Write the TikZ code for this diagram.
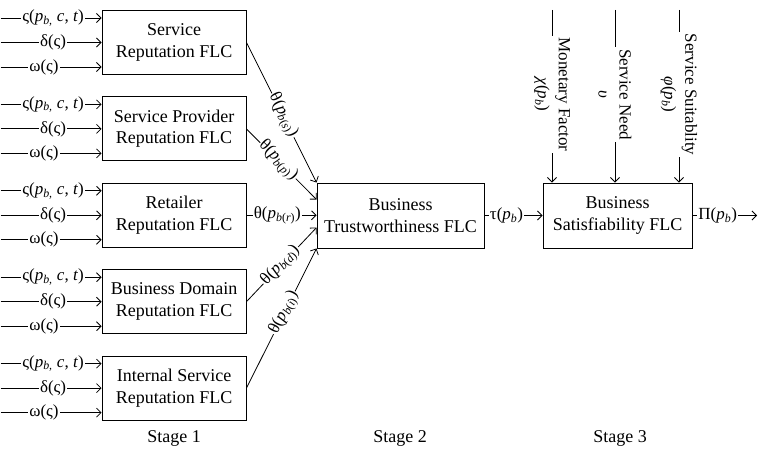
\documentclass[tikz,border=0pt]{standalone}
\usepackage{fontspec}
\setmainfont{Liberation Serif}
\usetikzlibrary{arrows.meta,calc}

% p with subscript b, and p with a composite subscript
\newcommand{\pb}{\textit{p}\textsubscript{\textit{b}}}
\newcommand{\pbx}[1]{\textit{p}\textsubscript{\textit{b}(\textit{#1})}}

\tikzset{
  flc/.style={draw, line width=0.9pt, minimum width=144pt, minimum height=64pt,
    align=center, inner sep=0pt, font=\fontsize{18}{21.5}\selectfont},
  sig/.style={draw, line width=0.8pt, -{Straight Barb[length=4.5pt,width=9pt]}},
  lbl/.style={fill=white, inner sep=1pt, font=\fontsize{17}{21}\selectfont},
  vlbl/.style={lbl, rotate=-90, align=center, inner sep=2pt},
  stagelbl/.style={font=\fontsize{18}{21}\selectfont}
}

\begin{document}
\begin{tikzpicture}[x=1pt,y=-1pt]
\useasboundingbox (0,0) rectangle (759,454);

% Stage 1: reputation controllers
\node[flc] (r1) at (174,42.5)  {Service\\Reputation FLC};
\node[flc] (r2) at (174,128.9) {Service Provider\\Reputation FLC};
\node[flc] (r3) at (174,215.3) {Retailer\\Reputation FLC};
\node[flc] (r4) at (174,301.7) {Business Domain\\Reputation FLC};
\node[flc] (r5) at (174,388.1) {Internal Service\\Reputation FLC};

% Stage 2 and Stage 3 controllers
\node[flc, minimum width=167pt, minimum height=65pt] (trust) at (400.5,215.5) {Business\\Trustworthiness FLC};
\node[flc, minimum width=149pt, minimum height=65pt] (sat) at (617.5,215.5) {Business\\Satisfiability FLC};

% three inputs into every reputation controller
\foreach \b in {r1,r2,r3,r4,r5}{
  \coordinate (\b-ia) at ($(\b.west)+(-101,-24.5)$);
  \coordinate (\b-ib) at ($(\b.west)+(-101,0)$);
  \coordinate (\b-ic) at ($(\b.west)+(-101,24.5)$);
  \draw[sig] (\b-ia) -- node[lbl,pos=0.52] {ς(\textit{p}\textsubscript{\textit{b,}} \textit{c}, \textit{t})} (\b-ia -| \b.west);
  \draw[sig] (\b-ib) -- node[lbl,pos=0.52] {δ(ς)} (\b-ib -| \b.west);
  \draw[sig] (\b-ic) -- node[lbl,pos=0.43] {ω(ς)} (\b-ic -| \b.west);
}

% entry points on the trustworthiness controller
\coordinate (t1) at ($(trust.north west)+(0,0)$);
\coordinate (t2) at ($(trust.north west)+(0,17)$);
\coordinate (t4) at ($(trust.north west)+(0,45)$);
\coordinate (t5) at ($(trust.south west)+(0,0)$);

\draw[sig] (r1.east) -- node[lbl,sloped,pos=0.52] {θ(\pbx{s})} (t1);
\draw[sig] (r2.east) -- node[lbl,sloped,pos=0.45] {θ(\pbx{p})} (t2);
\draw[sig] (r3.east) -- node[lbl,pos=0.44] {θ(\pbx{r})} (trust.west |- r3.east);
\draw[sig] (r4.east) -- node[lbl,sloped,pos=0.49] {θ(\pbx{d})} (t4);
\draw[sig] (r5.east) -- node[lbl,sloped,pos=0.54] {θ(\pbx{i})} (t5);

% trustworthiness into satisfiability, and the final output
\coordinate (out) at (757,215.5);
\draw[sig] (trust.east) -- node[lbl,pos=0.38] {τ(\pb)} (sat.west);
\draw[sig] (sat.east) -- node[lbl,pos=0.39] {Π(\pb)} (out);

% external inputs of the satisfiability controller
\coordinate (s1) at (552,10);
\coordinate (s2) at (615,10);
\coordinate (s3) at (679,10);
\draw[sig] (s1) -- node[vlbl,pos=0.49] {Monetary Factor\\\textit{χ}(\pb)} (s1 |- sat.north);
\draw[sig] (s2) -- node[vlbl,pos=0.49] {Service Need\\\textit{υ}} (s2 |- sat.north);
\draw[sig] (s3) -- node[vlbl,pos=0.49] {Service Suitablity\\\textit{φ}(\pb)} (s3 |- sat.north);

% stage captions
\node[stagelbl] (st1) at (174,438) {Stage 1};
\node[stagelbl] (st2) at (400,438) {Stage 2};
\node[stagelbl] (st3) at (620,438) {Stage 3};
\end{tikzpicture}
\end{document}
